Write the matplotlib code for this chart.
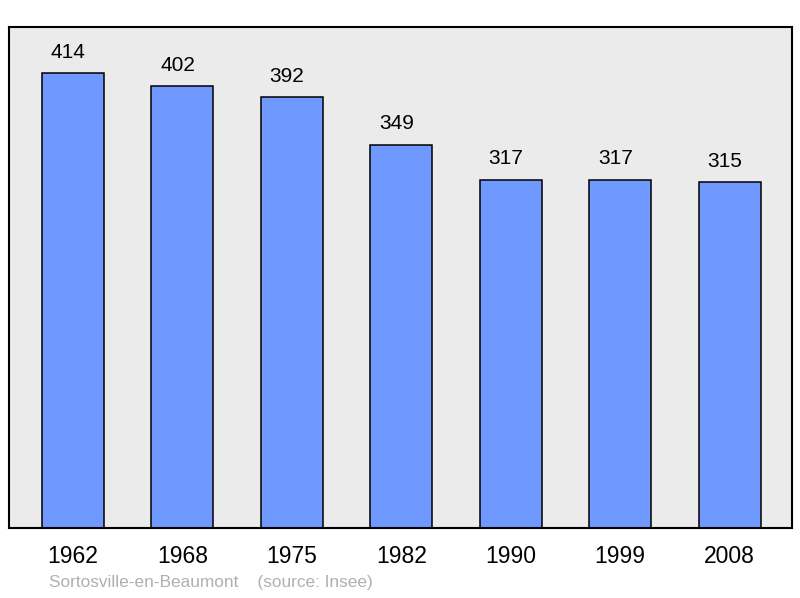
import matplotlib.pyplot as plt
import numpy as np

plt.rcParams['font.family'] = ['Liberation Sans', 'DejaVu Sans']

# donnees
annees = ['1962', '1968', '1975', '1982', '1990', '1999', '2008']
population = [414, 402, 392, 349, 317, 317, 315]

fig = plt.figure(figsize=(8, 5.98), dpi=100)
ax = fig.add_axes([9/800, 1 - 528/598, 783/800, (528 - 27)/598])
ax.set_facecolor('#ebebeb')

x = np.arange(len(annees))
ax.bar(x, population, width=0.567, color='#7099ff', edgecolor='black', linewidth=1.1, zorder=2)

# etiquettes de valeur (legerement decalees a gauche comme l'original)
for xi, v in zip(x, population):
    ax.annotate(str(v), (xi, v), xytext=(-3.5, 15), textcoords='offset points',
                ha='center', va='center', fontsize=15)

ax.set_xlim(-0.585, 6.571)
ax.set_ylim(0, 456)
ax.set_yticks([])
ax.set_xticks(x)
ax.set_xticklabels(annees, fontsize=16.5)
ax.tick_params(axis='x', length=0, pad=12)
for s in ax.spines.values():
    s.set_linewidth(1.5)

fig.text(49/800, 1 - 583/598, 'Sortosville-en-Beaumont    (source: Insee)',
         color='#b0b0b0', fontsize=12.4, va='center', ha='left')

fig.savefig('out.png')
